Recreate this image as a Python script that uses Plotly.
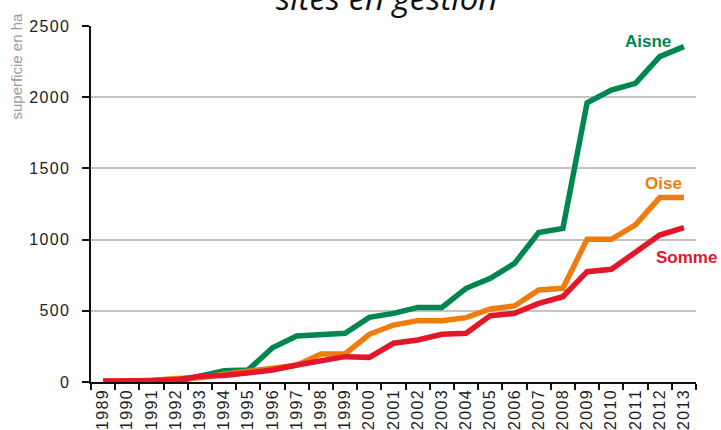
import plotly.graph_objects as go

years = [str(y) for y in range(1989, 2014)]
year_labels = ["\u200a".join(y) for y in years]
aisne = [5, 3, 5, 0, 40, 79, 85, 241, 323, 335, 342, 454, 482, 524, 524, 658, 728, 833, 1049, 1079, 1961, 2050, 2097, 2285, 2355]
oise = [5, 5, 10, 25, 30, 55, 75, 100, 117, 197, 197, 335, 400, 431, 431, 452, 513, 534, 646, 658, 1002, 1002, 1103, 1295, 1295]
somme = [5, 5, 10, 15, 40, 45, 61, 84, 119, 147, 178, 173, 272, 295, 335, 342, 466, 482, 552, 599, 775, 791, 915, 1032, 1084]
y_ticks = [0, 500, 1000, 1500, 2000, 2500]
y_labels = ["\u200a".join(str(v)) for v in y_ticks]

series = [("Aisne", aisne, "#00864f"), ("Oise", oise, "#ee7d0e"), ("Somme", somme, "#e2172a")]

fig = go.Figure()
for name, vals, col in series:
    fig.add_trace(go.Scatter(x=years, y=vals, mode="lines", name=name,
                             line=dict(color=col, width=5.5), showlegend=False))

W, H = 721, 430
ml, mr, mt, mb = 91, 25, 26, 48
pw, ph = W - ml - mr, H - mt - mb

def px(x):
    return (x - ml) / pw

def py(y):
    return 1 - (y - mt) / ph

ann = [
    dict(text="<b>Aisne</b>", x=px(648), y=py(41), color="#00864f", xa="center"),
    dict(text="<b>Oise</b>", x=px(663), y=py(183), color="#ee7d0e", xa="center"),
    dict(text="<b>Somme</b>", x=px(719), y=py(257), color="#e2172a", xa="right"),
]
for a in ann:
    fig.add_annotation(xref="paper", yref="paper", x=a["x"], y=a["y"], text=a["text"],
                       showarrow=False, xanchor=a["xa"], yanchor="middle",
                       font=dict(family="Liberation Sans, Arial", size=17, color=a["color"]))

fig.add_annotation(xref="paper", yref="paper", x=px(386), y=py(-2.5), text="<i>sites en gestion</i>",
                   showarrow=False, xanchor="center", yanchor="middle",
                   font=dict(family="Open Sans", size=33, color="#111111"))
fig.add_annotation(xref="paper", yref="paper", x=px(16), y=py(11), text="superficie en ha",
                   showarrow=False, xanchor="center", yanchor="top", textangle=-90,
                   font=dict(family="Liberation Sans, Arial", size=15, color="#9a9a9a"))

fig.update_layout(
    width=W, height=H,
    margin=dict(l=ml, r=mr, t=mt, b=mb, autoexpand=False),
    paper_bgcolor="white", plot_bgcolor="white",
    xaxis=dict(type="category", range=[-0.5, 24.5], tickson="boundaries", ticks="outside",
               tickvals=years, ticktext=year_labels,
               ticklen=6, tickwidth=1.5, tickcolor="#111", showline=True, linecolor="#111",
               linewidth=2, showgrid=False, tickangle=-90, automargin=False,
               tickfont=dict(family="Liberation Sans, Arial", size=16, color="#222")),
    yaxis=dict(range=[0, 2500], tickvals=y_ticks, ticktext=y_labels, ticks="outside",
               ticklen=7, tickwidth=1.5, tickcolor="#111", showline=True, linecolor="#111",
               linewidth=2, showgrid=True, gridcolor="#c4c4c4", gridwidth=1.5, zeroline=False,
               automargin=False, ticklabelstandoff=10,
               tickfont=dict(family="Liberation Sans, Arial", size=16, color="#222")),
)

fig.write_html("out.html", config={"displayModeBar": False},
               post_script="document.body.style.margin='0';")
